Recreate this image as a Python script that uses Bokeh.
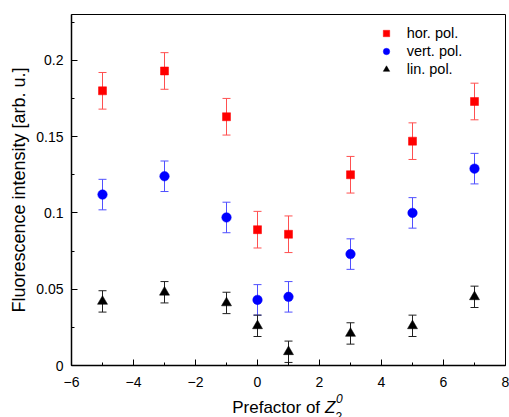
from bokeh.plotting import figure
from bokeh.layouts import column
from bokeh.models import (ColumnDataSource, Whisker, TeeHead, FixedTicker, Legend,
                          LegendItem, Label, Range1d)
from bokeh.embed import file_html
from bokeh.resources import INLINE

# ---- data ----
x_vals = [-5, -3, -1, 0, 1, 3, 5, 7]
hor = [0.180, 0.193, 0.163, 0.089, 0.086, 0.125, 0.147, 0.173]
hor_err = [0.012, 0.012, 0.012, 0.012, 0.012, 0.012, 0.012, 0.012]
vert = [0.112, 0.124, 0.097, 0.043, 0.045, 0.073, 0.100, 0.129]
vert_err = [0.010, 0.010, 0.010, 0.010, 0.010, 0.010, 0.010, 0.010]
lin = [0.042, 0.048, 0.041, 0.026, 0.009, 0.021, 0.026, 0.045]
lin_err = [0.007, 0.007, 0.007, 0.007, 0.007, 0.007, 0.007, 0.007]

series_names = ["hor. pol.", "vert. pol.", "lin. pol."]

x_ticks = [-6, -4, -2, 0, 2, 4, 6, 8]
x_tick_labels = ["\u22126", "\u22124", "\u22122", "0", "2", "4", "6", "8"]
x_minor = [-5, -3, -1, 1, 3, 5, 7]
y_ticks = [0, 0.05, 0.1, 0.15, 0.2]
y_tick_labels = ["0", "0.05", "0.1", "0.15", "0.2"]
y_minor = [0.025, 0.075, 0.125, 0.175, 0.225]

FONT = "Liberation Sans"

x_range = Range1d(-6, 8)

p = figure(width=509, height=373, output_backend="svg", toolbar_location=None,
           x_range=x_range, y_range=Range1d(0, 0.23),
           frame_width=434, frame_height=351,
           min_border_left=71, min_border_right=4, min_border_top=14, min_border_bottom=8)
p.background_fill_color = "white"
p.border_fill_color = "white"
p.outline_line_color = "black"
p.outline_line_width = 1
p.grid.visible = False

p.xaxis.ticker = FixedTicker(ticks=x_ticks, minor_ticks=x_minor)
p.xaxis.major_label_overrides = {t: "" for t in x_ticks}
p.xaxis.major_label_text_font_size = "0px"
p.xaxis.major_label_standoff = 0
p.yaxis.ticker = FixedTicker(ticks=y_ticks, minor_ticks=y_minor)
p.yaxis.major_label_overrides = dict(zip(y_ticks, y_tick_labels))

for ax in (p.xaxis, p.yaxis):
    ax.axis_line_color = "black"
    ax.axis_line_width = 1.5
    ax.major_tick_in = 6
    ax.major_tick_out = 0
    ax.minor_tick_in = 3
    ax.minor_tick_out = 0
    ax.major_tick_line_color = "black"
    ax.minor_tick_line_color = "black"
    ax.major_label_text_font = FONT
    ax.major_label_text_color = "black"
p.yaxis.major_label_text_font_size = "14px"
p.yaxis.major_label_standoff = 8

p.yaxis.axis_label = "Fluorescence intensity [arb. u.]"
p.yaxis.axis_label_text_font = FONT
p.yaxis.axis_label_text_font_size = "18px"
p.yaxis.axis_label_text_font_style = "normal"
p.yaxis.axis_label_text_color = "black"
p.yaxis.axis_label_standoff = 4

colors = ["#ff0000", "#0000ff", "#000000"]
bar_colors = ["#ff5050", "#5050ff", "#202020"]
markers = ["square", "circle", "triangle"]
sizes = [8, 9.5, 10]
values = [hor, vert, lin]
errors = [hor_err, vert_err, lin_err]

items = []
for name, col, bcol, mk, sz, vals, errs in zip(series_names, colors, bar_colors,
                                                markers, sizes, values, errors):
    src = ColumnDataSource(dict(
        x=x_vals, y=vals,
        upper=[v + e for v, e in zip(vals, errs)],
        lower=[v - e for v, e in zip(vals, errs)]))
    w = Whisker(base="x", upper="upper", lower="lower", source=src,
                dimension="height", line_color=bcol, line_width=1,
                upper_head=TeeHead(size=8, line_color=bcol, line_width=1),
                lower_head=TeeHead(size=8, line_color=bcol, line_width=1))
    p.add_layout(w)
    r = p.scatter("x", "y", source=src, marker=mk, size=sz,
                  fill_color=col, line_color=col, line_width=0.5)
    items.append(LegendItem(label=name, renderers=[r]))

legend = Legend(items=items, location=(306.7, 286.7), orientation="vertical",
                padding=0, margin=0, spacing=0, glyph_width=16, glyph_height=18,
                label_height=18, label_standoff=13,
                label_text_font=FONT, label_text_font_size="14.5px",
                label_text_color="black",
                border_line_color=None, background_fill_alpha=0)
p.add_layout(legend, "center")

# ---- strip below: x tick labels and x-axis title (italic Z with sub/superscript) ----
p2 = figure(width=509, height=44, output_backend="svg", toolbar_location=None,
            x_range=x_range, y_range=Range1d(0, 1),
            x_axis_location="above", y_axis_location=None,
            min_border_left=71, min_border_right=4, min_border_top=0, min_border_bottom=0)
p2.outline_line_color = None
p2.grid.visible = False
p2.background_fill_color = "white"
p2.border_fill_color = "white"
ax2 = p2.xaxis[0]
ax2.ticker = FixedTicker(ticks=x_ticks, minor_ticks=[])
ax2.major_label_overrides = dict(zip(x_ticks, x_tick_labels))
ax2.axis_line_color = None
ax2.major_tick_line_color = None
ax2.minor_tick_line_color = None
ax2.major_tick_in = 0
ax2.major_tick_out = 0
ax2.major_label_standoff = 0
ax2.major_label_text_font = FONT
ax2.major_label_text_font_size = "14px"
ax2.major_label_text_color = "black"

# frame of p2: left at x=71, bottom at the page bottom
p2.add_layout(Label(x=160.7, y=10, x_units="screen", y_units="screen",
                    text="Prefactor of", text_font=FONT, text_font_size="17px",
                    text_color="black", text_baseline="alphabetic", text_align="left"))
p2.add_layout(Label(x=253.5, y=10, x_units="screen", y_units="screen",
                    text="Z", text_font=FONT, text_font_size="17px", text_font_style="italic",
                    text_color="black", text_baseline="alphabetic", text_align="left"))
p2.add_layout(Label(x=264.5, y=19.2, x_units="screen", y_units="screen",
                    text="0", text_font=FONT, text_font_size="12px", text_font_style="italic",
                    text_color="black", text_baseline="alphabetic", text_align="left"))
p2.add_layout(Label(x=263.5, y=1.5, x_units="screen", y_units="screen",
                    text="2", text_font=FONT, text_font_size="12px", text_font_style="italic",
                    text_color="black", text_baseline="alphabetic", text_align="left"))

layout = column(p, p2, spacing=0)
open("out.html", "w").write(file_html(layout, INLINE))
